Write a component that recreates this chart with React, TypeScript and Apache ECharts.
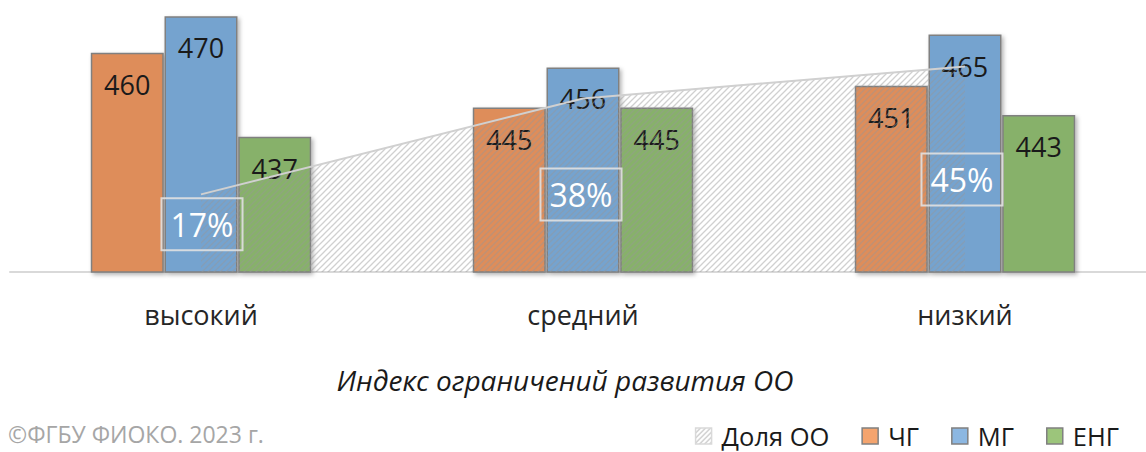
import React, { useEffect, useRef } from "react";
import * as echarts from "echarts";

const categories = ["высокий", "средний", "низкий"];
const seriesNames = ["ЧГ", "МГ", "ЕНГ"];
const chgValues = [460, 445, 451];
const mgValues = [470, 456, 465];
const engValues = [437, 445, 443];
const shareName = "Доля ОО";
const shareValues = [0.17, 0.38, 0.45];
const axisTitle = "Индекс ограничений развития ОО";
const copyright = "©ФГБУ ФИОКО. 2023 г.";

const FONT = "'Open Sans', 'Noto Sans', sans-serif";
const barColors = ["#DE8D5A", "#74A3CF", "#87B16A"];
const legendColors = ["#F4A46E", "#8CB7E1", "#9CC57B"];
const shareLabelOffsets = [
  [1, 30],
  [-2, 96],
  [-3, 113],
];

function makeHatch(color: string, size: number, width: number) {
  const c = document.createElement("canvas");
  c.width = size;
  c.height = size;
  const ctx = c.getContext("2d")!;
  ctx.strokeStyle = color;
  ctx.lineWidth = width;
  ctx.beginPath();
  ctx.moveTo(0, size);
  ctx.lineTo(size, 0);
  ctx.moveTo(-2, 2);
  ctx.lineTo(2, -2);
  ctx.moveTo(size - 2, size + 2);
  ctx.lineTo(size + 2, size - 2);
  ctx.stroke();
  return c;
}

export default function App() {
  const ref = useRef<HTMLDivElement>(null);
  useEffect(() => {
    if (!ref.current) return;
    const chart = echarts.init(ref.current, null, { renderer: "svg" });
    const hatch = makeHatch("rgba(150,150,150,0.45)", 6, 1.3);
    const pattern: any = { image: hatch, repeat: "repeat", imageWidth: 6, imageHeight: 6 };
    const legendHatch: any = { image: makeHatch("rgba(150,150,150,0.6)", 5, 1.2), repeat: "repeat", imageWidth: 5, imageHeight: 5 };
    const barValues = [chgValues, mgValues, engValues];
    const barSeries = barValues.map((vals, i) => ({
      name: seriesNames[i],
      type: "bar",
      xAxisIndex: 0,
      yAxisIndex: 0,
      barWidth: 73,
      barGap: "1%",
      z: 2,
      data: vals,
      itemStyle: {
        color: barColors[i],
        borderColor: "#808080",
        borderWidth: 1.5,
        shadowColor: "rgba(0,0,0,0.3)",
        shadowBlur: 4,
        shadowOffsetX: 2,
        shadowOffsetY: 2,
      },
      label: {
        show: true,
        position: "insideTop",
        distance: 18,
        color: "#1a1a1a",
        fontFamily: FONT,
        fontSize: 27,
      },
    }));
    const option: any = {
      animation: false,
      grid: {
        left: 10,
        width: 1146,
        top: -2,
        bottom: 180,
        containLabel: false,
        outerBoundsMode: "none",
      },
      xAxis: {
        type: "category",
        data: categories,
        axisLine: { show: true, lineStyle: { color: "#d9d9d9", width: 2 } },
        axisTick: { show: false },
        axisLabel: {
          color: "#262626",
          fontFamily: FONT,
          fontSize: 27,
          margin: 29,
        },
      },
      yAxis: [
        { type: "value", min: 400, max: 475, show: false, splitLine: { show: false } },
        { type: "value", min: 0, max: 0.6, show: false, splitLine: { show: false } },
      ],
      legend: {
        right: 22,
        top: 418,
        itemWidth: 16,
        itemHeight: 16,
        itemGap: 32,
        textStyle: { color: "#1a1a1a", fontFamily: FONT, fontSize: 25.5, lineHeight: 26, padding: [0, 0, 0, 5] },
        data: [
          { name: shareName, icon: "rect", itemStyle: { color: legendHatch, borderColor: "#d9d9d9", borderWidth: 1.5 } },
          ...seriesNames.map((n, i) => ({
            name: n,
            icon: "rect",
            itemStyle: { color: legendColors[i], borderColor: "#808080", borderWidth: 1.5, shadowBlur: 0 },
          })),
        ],
      },
      graphic: [
        {
          type: "text",
          x: 565,
          y: 380,
          style: {
            text: axisTitle,
            fill: "#1a1a1a",
            font: `italic 28px ${FONT}`,
            align: "center",
            verticalAlign: "middle",
          },
        },
        {
          type: "text",
          x: 8,
          y: 434,
          style: {
            text: copyright,
            fill: "#a6a6a6",
            font: `23px ${FONT}`,
            align: "left",
            verticalAlign: "middle",
          },
        },
      ],
      series: [
        ...barSeries,
        {
          name: shareName,
          type: "line",
          xAxisIndex: 0,
          yAxisIndex: 1,
          z: 5,
          symbol: "circle",
          symbolSize: 1,
          itemStyle: { color: "rgba(0,0,0,0)" },
          lineStyle: { color: "#d0d0d0", width: 2 },
          areaStyle: { color: pattern, opacity: 1 },
          data: shareValues.map((v, i) => ({
            value: v,
            label: { offset: shareLabelOffsets[i] },
          })),
          label: {
            show: true,
            position: "inside",
            formatter: (p: any) => `${Math.round(p.value * 100)}%`,
            color: "#ffffff",
            fontFamily: FONT,
            fontSize: 32,
            lineHeight: 34,
            padding: [9, 9, 9, 9],
            borderColor: "rgba(225,225,225,0.9)",
            borderWidth: 2,
          },
        },
      ],
    };
    chart.setOption(option);
    return () => chart.dispose();
  }, []);
  return (
    <div
      ref={ref}
      style={{ position: "fixed", left: 0, top: 0, width: 1146, height: 452, background: "#ffffff" }}
    />
  );
}
